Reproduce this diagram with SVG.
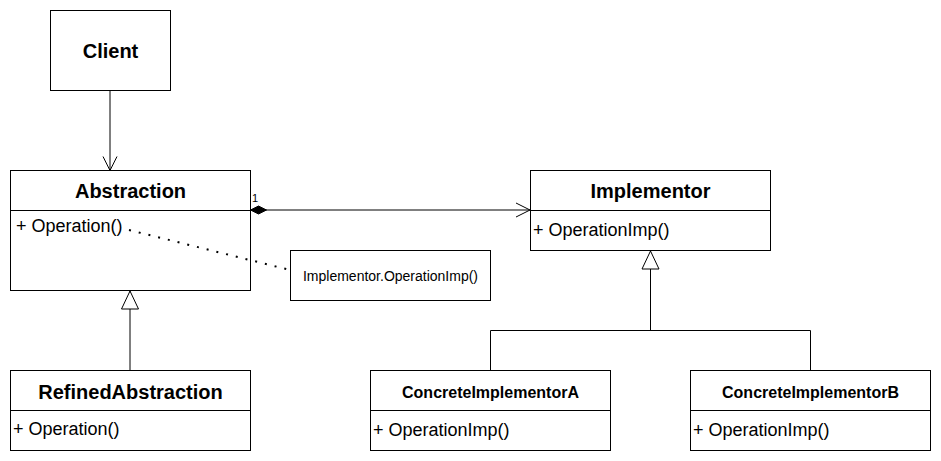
<svg xmlns="http://www.w3.org/2000/svg" width="941" height="461" viewBox="0 0 941 461">
<defs>
<style>
.box{fill:#fff;stroke:#000;stroke-width:1}
.div{stroke:#000;stroke-width:1}
.title{font-family:"Liberation Sans",Arial,sans-serif;font-weight:bold;font-size:20px;text-anchor:middle;fill:#000}
.title16{font-family:"Liberation Sans",Arial,sans-serif;font-weight:bold;font-size:16px;text-anchor:middle;fill:#000}
.attr{font-family:"Liberation Sans",Arial,sans-serif;font-size:18px;fill:#000}
.note{font-family:"Liberation Sans",Arial,sans-serif;font-size:14px;fill:#000;text-anchor:middle}
.small{font-family:"Liberation Sans",Arial,sans-serif;font-size:11px;fill:#000}
.line{fill:none;stroke:#000;stroke-width:1}
</style>
<marker id="open" viewBox="0 0 16 16" refX="15" refY="8" markerWidth="16" markerHeight="16" markerUnits="userSpaceOnUse" orient="auto">
<path d="M1,1 L15,8 L1,15" fill="none" stroke="#000" stroke-width="1"/>
</marker>
<marker id="tri" viewBox="0 0 20 20" refX="19" refY="10" markerWidth="20" markerHeight="20" markerUnits="userSpaceOnUse" orient="auto">
<path d="M1,1.5 L19,10 L1,18.5 Z" fill="#fff" stroke="#000" stroke-width="1"/>
</marker>
<marker id="diamond" viewBox="0 0 20 10" refX="1" refY="5" markerWidth="20" markerHeight="10" markerUnits="userSpaceOnUse" orient="auto">
<path d="M1,5 L9,1 L17,5 L9,9 Z" fill="#000" stroke="#000" stroke-width="1"/>
</marker>
</defs>
<rect width="941" height="461" fill="#fff"/>

<g id="client">
<rect class="box" x="50.5" y="10.5" width="120" height="80"/>
<text class="title" x="110.5" y="58">Client</text>
</g>

<g id="abstraction">
<rect class="box" x="10.5" y="170.5" width="240" height="120"/>
<line class="div" x1="10.5" y1="210.5" x2="250.5" y2="210.5"/>
<text class="title" x="130.5" y="198">Abstraction</text>
<text class="attr" x="16" y="232">+ Operation()</text>
</g>

<g id="note">
<rect class="box" x="290.5" y="250.5" width="200" height="50"/>
<text class="note" x="390.5" y="281">Implementor.OperationImp()</text>
</g>

<g id="implementor">
<rect class="box" x="530.5" y="170.5" width="240" height="80"/>
<line class="div" x1="530.5" y1="210.5" x2="770.5" y2="210.5"/>
<text class="title" x="650.5" y="198">Implementor</text>
<text class="attr" x="533" y="236">+ OperationImp()</text>
</g>

<g id="refinedAbstraction">
<rect class="box" x="10.5" y="370.5" width="240" height="80"/>
<line class="div" x1="10.5" y1="410.5" x2="250.5" y2="410.5"/>
<text class="title" x="130.5" y="399">RefinedAbstraction</text>
<text class="attr" x="13" y="435">+ Operation()</text>
</g>

<g id="concreteImplementorA">
<rect class="box" x="370.5" y="370.5" width="240" height="80"/>
<line class="div" x1="370.5" y1="410.5" x2="610.5" y2="410.5"/>
<text class="title16" x="490.5" y="398">ConcreteImplementorA</text>
<text class="attr" x="373" y="436">+ OperationImp()</text>
</g>

<g id="concreteImplementorB">
<rect class="box" x="690.5" y="370.5" width="240" height="80"/>
<line class="div" x1="690.5" y1="410.5" x2="930.5" y2="410.5"/>
<text class="title16" x="810.5" y="398">ConcreteImplementorB</text>
<text class="attr" x="693" y="436">+ OperationImp()</text>
</g>

<g id="connectors">
<line class="line" x1="110" y1="90.5" x2="110" y2="170.5" marker-end="url(#open)"/>
<line class="line" x1="250.5" y1="210" x2="530" y2="210" marker-start="url(#diamond)" marker-end="url(#open)"/>
<text class="small" x="252" y="202">1</text>
<line x1="129" y1="230" x2="290" y2="270" stroke="#000" stroke-width="2" stroke-dasharray="2 8"/>
<line class="line" x1="130" y1="370" x2="130" y2="291" marker-end="url(#tri)"/>
<polyline class="line" points="490.5,370 490.5,330.5 810.5,330.5 810.5,370"/>
<line class="line" x1="650.5" y1="330.5" x2="650.5" y2="251" marker-end="url(#tri)"/>
</g>
</svg>
